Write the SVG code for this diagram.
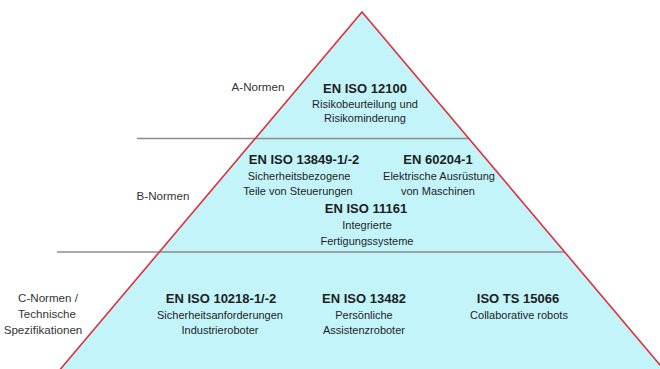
<svg xmlns="http://www.w3.org/2000/svg" width="660" height="369" viewBox="0 0 660 369">
  <style>
    text { font-family: "Liberation Sans", Arial, sans-serif; text-anchor: middle; fill: #1e1e1e; }
    .h { font-size: 13px; font-weight: bold; }
    .s { font-size: 11px; }
    .lbl { font-size: 11.6px; fill: #333; }
    .sep { stroke: #8c8c8c; stroke-width: 1.3; fill: none; }
    .edge { stroke: #e0303c; stroke-width: 1.6; fill: none; }
  </style>
  <rect x="0" y="0" width="660" height="369" fill="#ffffff"/>
  <g id="pyramid">
    <polygon points="362,12 58,372 666,372" fill="#c2f4fa"/>
  </g>
  <g id="connectors">
    <line class="sep" x1="137" y1="138.5" x2="468" y2="138.5"/>
    <line class="sep" x1="57" y1="252" x2="564" y2="252"/>
    <polyline class="edge" points="58,372 362,12 666,372"/>
  </g>
  <g id="label-a">
    <text class="lbl" x="258" y="91">A-Normen</text>
  </g>
  <g id="label-b">
    <text class="lbl" x="163" y="200">B-Normen</text>
  </g>
  <g id="label-c">
    <text class="lbl" x="48" y="302">C-Normen /</text>
    <text class="lbl" x="47" y="318">Technische</text>
    <text class="lbl" x="43" y="334">Spezifikationen</text>
  </g>
  <g id="node-12100">
    <text class="h" x="365" y="93">EN ISO 12100</text>
    <text class="s" x="365" y="107.5">Risikobeurteilung und</text>
    <text class="s" x="365" y="122">Risikominderung</text>
  </g>
  <g id="node-13849">
    <text class="h" x="304" y="163.5">EN ISO 13849-1/-2</text>
    <text class="s" x="299" y="179.5">Sicherheitsbezogene</text>
    <text class="s" x="298" y="195">Teile von Steuerungen</text>
  </g>
  <g id="node-60204">
    <text class="h" x="438" y="163.5">EN 60204-1</text>
    <text class="s" x="439" y="179.5">Elektrische Ausrüstung</text>
    <text class="s" x="438" y="195">von Maschinen</text>
  </g>
  <g id="node-11161">
    <text class="h" x="366" y="213">EN ISO 11161</text>
    <text class="s" x="367" y="229">Integrierte</text>
    <text class="s" x="367" y="244.5">Fertigungssysteme</text>
  </g>
  <g id="node-10218">
    <text class="h" x="221" y="303">EN ISO 10218-1/-2</text>
    <text class="s" x="220" y="318.5">Sicherheitsanforderungen</text>
    <text class="s" x="220" y="334">Industrieroboter</text>
  </g>
  <g id="node-13482">
    <text class="h" x="364" y="303">EN ISO 13482</text>
    <text class="s" x="364" y="318.5">Persönliche</text>
    <text class="s" x="364" y="334">Assistenzroboter</text>
  </g>
  <g id="node-15066">
    <text class="h" x="518" y="303">ISO TS 15066</text>
    <text class="s" x="519" y="318.5">Collaborative robots</text>
  </g>
</svg>
